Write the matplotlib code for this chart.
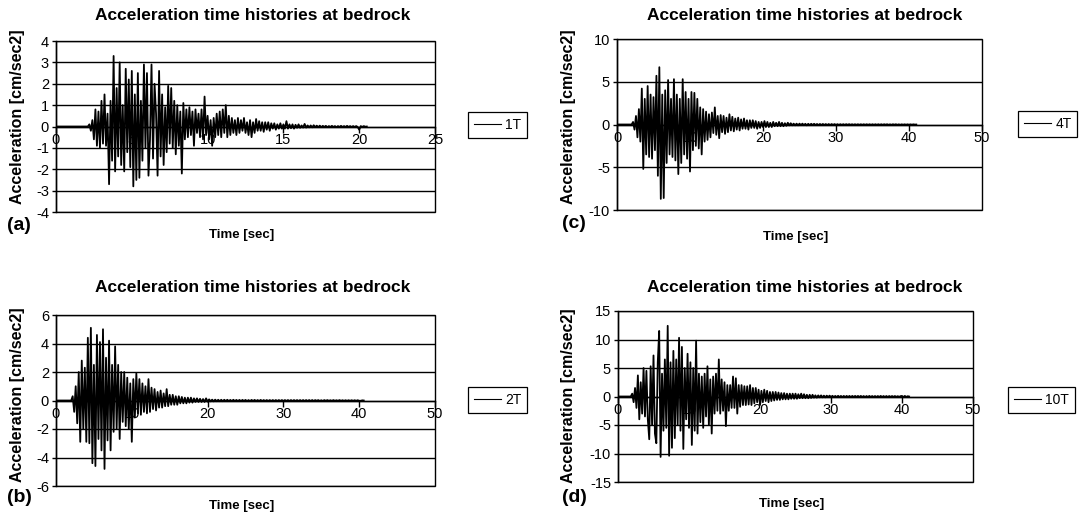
import numpy as np
import matplotlib
matplotlib.use('Agg')
import matplotlib.pyplot as plt
from matplotlib.patches import Rectangle

plt.rcParams['font.family'] = ['Liberation Sans', 'DejaVu Sans']

# record 1T: values every 0.1 s from 2.2 s (flat zero before)
start_1t = 2.2
step_1t = 0.1
acc_1t = [
    0.1, -0.2, 0.3, -0.6, 0.8, -0.9, 0.7, -1.0, 1.2, -0.8,
    1.5, -0.9, 0.6, -2.7, 1.2, -1.6, 3.3, -2.1, 1.8, -1.4,
    3.0, -1.8, 1.0, -2.1, 2.7, -1.2, 2.2, -1.9, 2.6, -2.8,
    1.5, -2.5, 2.5, -2.4, 1.2, -1.6, 2.9, -1.0, 2.5, -2.3,
    -0.6, 2.9, -1.5, 2.0, 0.6, -2.3, 2.6, -1.4, 1.5, -1.8,
    0.9, -1.2, 1.9, -0.8, 1.8, -1.0, 1.2, -1.3, 1.0, -0.9,
    0.7, -2.2, 1.1, -0.6, 0.8, -0.5, 0.9, -0.4, 0.7, -0.9,
    0.8, -0.3, 0.6, -0.5, 0.8, -0.6, 1.4, -0.4, 0.5, -0.6,
    0.3, -0.9, 0.4, -0.5, 0.6, -0.4, 0.7, -0.5, 0.8, -0.3,
    1.0, -0.5, 0.5, -0.4, 0.4, -0.3, 0.3, -0.4, 0.4, -0.3,
    0.3, -0.2, 0.4, -0.3, 0.2, -0.4, 0.3, -0.5, 0.2, -0.3,
    0.35, -0.2, 0.25, -0.2, 0.2, -0.25, 0.2, -0.15, 0.2, -0.2,
    0.15, -0.1, 0.15, -0.15, 0.1, -0.1, 0.15, -0.1, 0.1, -0.1,
    0.25, -0.1, 0.1, -0.08, 0.1, -0.1, 0.08, -0.06, 0.1, -0.06,
    0.05, -0.05, 0.12, -0.05, 0.05, -0.04, 0.05, -0.04, 0.06, -0.03,
    0.04, -0.03, 0.04, -0.03, 0.03, -0.02, 0.03, -0.03, 0.02, -0.02,
    0.03, -0.02, 0.02, -0.03, 0.02, -0.02, 0.03, -0.02, 0.02, -0.02,
    0.03, -0.02, 0.02, -0.02, 0.02, -0.02, 0.02, -0.02, -0.15, 0.02,
    -0.02, 0.02, -0.01, 0.0,
]

# record 2T: values every 0.2 s from 2.2 s
start_2t = 2.2
step_2t = 0.2
acc_2t = [
    0.3, -0.8, 1.0, -1.6, 2.0, -2.9, 2.8, -2.0, 2.3, -2.9,
    4.4, -3.0, 5.1, -4.4, 2.5, -4.6, 4.6, -2.7, 4.1, -3.5,
    5.0, -4.8, 3.0, -2.8, 4.2, -3.5, 2.5, -2.2, 3.8, -2.0,
    2.5, -2.7, 2.0, -1.5, 2.0, -1.8, 1.6, -2.0, 1.2, -2.9,
    1.5, -1.2, 1.9, -0.9, 1.5, -1.0, 1.2, -0.8, 1.0, -0.9,
    1.5, -0.8, 0.9, -0.6, 0.8, -0.7, 0.6, -0.5, 0.7, -0.5,
    0.5, -0.4, 0.8, -0.4, 0.4, -0.3, 0.4, -0.3, 0.3, -0.3,
    0.3, -0.2, 0.25, -0.2, 0.2, -0.2, 0.2, -0.15, 0.2, -0.15,
    0.15, -0.1, 0.15, -0.1, 0.12, -0.1, 0.1, -0.1, 0.15, -0.08,
    0.08, -0.06, 0.06, -0.06, 0.06, -0.05, 0.05, -0.05, 0.05, -0.05,
    0.05, -0.04, 0.05, -0.04, 0.04, -0.04, 0.05, -0.04, 0.04, -0.04,
    0.04, -0.04, 0.04, -0.03, 0.04, -0.04, 0.03, -0.04, 0.04, -0.03,
    0.04, -0.03, 0.03, -0.03, 0.04, -0.03, 0.03, -0.03, 0.03, -0.03,
    0.03, -0.03, 0.03, -0.03, 0.03, -0.03, 0.03, -0.03, 0.03, -0.03,
    0.03, -0.03, 0.03, -0.03, 0.03, -0.03, 0.03, -0.03, 0.03, -0.03,
    0.03, -0.03, 0.03, -0.03, 0.03, -0.03, 0.03, -0.03, 0.03, -0.03,
    0.03, -0.02, 0.03, -0.03, 0.02, -0.03, 0.03, -0.02, 0.03, -0.02,
    0.02, -0.02, 0.03, -0.02, 0.02, -0.02, 0.03, -0.02, 0.02, -0.02,
    0.02, -0.02, 0.02, -0.02, 0.02, -0.02, 0.02, -0.02, 0.02, -0.02,
    -0.02, 0.01, 0.0,
]

# record 4T: values every 0.2 s from 2.2 s
start_4t = 2.2
step_4t = 0.2
acc_4t = [
    0.3, -0.6, 1.0, -1.5, 1.8, -2.0, 4.2, -5.2, 3.0, -3.5,
    4.5, -3.8, 3.5, -4.0, 3.2, -3.0, 5.7, -6.0, 6.7, -8.7,
    3.5, -8.6, 4.0, -4.5, 5.2, -3.5, 3.0, -3.8, 5.3, -4.2,
    3.5, -5.8, 3.0, -4.5, 5.3, -3.5, 3.8, -4.0, 3.0, -5.5,
    3.8, -3.0, 3.7, -2.5, 3.0, -2.8, 2.0, -3.5, 1.8, -2.0,
    1.5, -1.8, 1.2, -1.5, 1.4, -1.0, 2.0, -1.2, 1.0, -1.6,
    1.1, -0.9, 1.0, -1.1, 0.8, -0.9, 1.2, -0.7, 0.9, -0.8,
    0.7, -0.6, 0.8, -0.7, 0.6, -0.5, 0.7, -0.5, 0.5, -0.6,
    0.5, -0.4, 0.5, -0.4, 0.4, -0.5, 0.3, -0.4, 0.3, -0.3,
    0.4, -0.3, 0.3, -0.3, 0.2, -0.3, 0.3, -0.2, 0.2, -0.2,
    0.3, -0.2, 0.2, -0.2, 0.15, -0.15, 0.2, -0.1, 0.15, -0.1,
    0.1, -0.1, 0.1, -0.1, 0.1, -0.08, 0.1, -0.08, 0.08, -0.1,
    0.08, -0.08, 0.08, -0.06, 0.08, -0.06, 0.06, -0.06, 0.06, -0.05,
    0.06, -0.05, 0.05, -0.05, 0.05, -0.05, 0.05, -0.04, 0.05, -0.04,
    0.04, -0.04, 0.04, -0.04, 0.04, -0.04, 0.04, -0.03, 0.04, -0.03,
    0.03, -0.03, 0.03, -0.03, 0.03, -0.03, 0.03, -0.03, 0.03, -0.03,
    0.03, -0.03, 0.03, -0.03, 0.03, -0.03, 0.03, -0.03, 0.03, -0.03,
    0.03, -0.03, 0.03, -0.02, 0.03, -0.03, 0.02, -0.03, 0.03, -0.02,
    0.03, -0.03, 0.02, -0.03, 0.02, -0.02, 0.02, -0.02, 0.02, -0.02,
    0.02, -0.02, 0.02, -0.01, 0.0,
]

# record 10T: values every 0.2 s from 2.0 s
start_10t = 2.0
step_10t = 0.2
acc_10t = [
    0.5, -1.0, 1.5, -2.0, 3.7, -4.0, 2.5, -3.0, 5.0, -3.5,
    4.5, -4.0, -7.5, 5.3, -5.0, 7.2, -6.5, -8.2, 6.0, 11.5,
    -10.6, 4.0, -6.0, 6.5, -5.5, 12.4, -10.4, 6.0, -9.0, 8.0,
    -7.3, 6.5, -5.0, 10.3, -6.0, 8.7, -9.2, 5.0, -4.0, 7.5,
    -5.5, 6.0, -8.5, 5.0, -6.0, 9.8, -6.5, 4.0, -4.5, 3.5,
    -5.5, 4.0, -3.5, 5.3, -5.0, 3.0, -6.5, 3.5, -3.0, 4.0,
    -2.5, 6.5, -3.0, 3.0, -2.5, 2.5, -5.2, 2.0, -2.5, 2.0,
    -2.0, 3.5, -2.0, 3.2, -3.0, 2.0, -1.8, 2.0, -1.5, 1.8,
    -1.5, 1.8, -1.4, 2.0, -1.5, 1.5, -1.2, 1.5, -1.0, 1.2,
    -1.5, 1.0, -1.0, 1.2, -0.8, 1.0, -1.0, 0.8, -0.8, 0.8,
    -0.7, 0.8, -0.6, 0.7, -0.6, 0.6, -0.5, 0.6, -0.5, 0.5,
    -0.5, 0.5, -0.4, 0.5, -0.4, 0.5, -0.4, 0.4, -0.3, 0.5,
    -0.3, 0.4, -0.3, 0.3, -0.3, 0.3, -0.25, 0.3, -0.2, 0.2,
    -0.2, 0.2, -0.15, 0.2, -0.15, 0.15, -0.15, 0.15, -0.1, 0.15,
    -0.1, 0.12, -0.1, 0.1, -0.1, 0.12, -0.1, 0.1, -0.1, 0.1,
    -0.1, 0.1, -0.08, 0.1, -0.1, 0.1, -0.08, 0.1, -0.08, 0.1,
    -0.08, 0.1, -0.08, 0.08, -0.1, 0.08, -0.08, 0.1, -0.08, 0.08,
    -0.08, 0.08, -0.08, 0.08, -0.08, 0.1, -0.08, 0.08, -0.08, 0.08,
    -0.08, 0.08, -0.06, 0.08, -0.06, 0.08, -0.06, 0.06, -0.06, 0.06,
    0.1, -0.1, 0.1, -0.08, 0.05, 0.0,
]

W, H = 1082, 516
fig = plt.figure(figsize=(W / 100, H / 100), dpi=100)


def fx(x):
    return x / W


def fy(y):
    return 1 - y / H


def panel(box, start, step, acc, name, xmax, xstep, ymax, ystep,
          title_xy, xlab_xy, ylab_xy, letter, letter_xy, leg_xy):
    x0, y0, x1, y1 = box
    ax = fig.add_axes([fx(x0), fy(y1), fx(x1 - x0), (y1 - y0) / H])
    # quiet record before the first listed sample
    t = np.concatenate([[0.0, start - step], start + step * np.arange(len(acc))])
    a = np.concatenate([[0.0, 0.0], acc])
    ax.plot(t, a, color='black', lw=1.3, label=name)
    ax.set_xlim(0, xmax)
    ax.set_ylim(-ymax, ymax)
    ax.set_xticks(np.arange(0, xmax + 1, xstep))
    ax.set_yticks(np.arange(-ymax, ymax + 1, ystep))
    ax.yaxis.grid(True, color='black', lw=1)
    ax.set_axisbelow(True)
    ax.spines['bottom'].set_position(('data', 0))
    ax.spines['bottom'].set_linewidth(1)
    ax.spines['left'].set_linewidth(1)
    ax.spines['top'].set_visible(False)
    ax.spines['right'].set_visible(False)
    ax.add_patch(Rectangle((0, 0), 1, 1, transform=ax.transAxes, fill=False,
                           ec='black', lw=1, clip_on=False, zorder=5))
    ax.tick_params(axis='x', direction='out', length=4, width=1, pad=1,
                   labelsize=10.5)
    ax.tick_params(axis='y', direction='out', length=3, width=1, pad=2,
                   labelsize=10.5)
    ax.set_yticklabels([f'{v:g}' for v in ax.get_yticks()])
    fig.text(fx(title_xy[0]), fy(title_xy[1]),
             'Acceleration time histories at bedrock',
             ha='center', va='center', fontsize=12.5, fontweight='bold')
    fig.text(fx(xlab_xy[0]), fy(xlab_xy[1]), 'Time [sec]',
             ha='center', va='center', fontsize=9.5, fontweight='bold')
    fig.text(fx(ylab_xy[0]), fy(ylab_xy[1]), 'Acceleration [cm/sec2]',
             ha='center', va='center', rotation=90, fontsize=11.5,
             fontweight='bold')
    fig.text(fx(letter_xy[0]), fy(letter_xy[1]), letter,
             ha='center', va='center', fontsize=14, fontweight='bold')
    leg = ax.legend(loc='center left', bbox_to_anchor=(fx(leg_xy[0]), fy(leg_xy[1])),
                    bbox_transform=fig.transFigure, fancybox=False,
                    edgecolor='black', framealpha=1, fontsize=10,
                    handlelength=2.0, handletextpad=0.3, borderpad=0.4,
                    borderaxespad=0)
    leg.get_frame().set_linewidth(0.9)
    for line in leg.get_lines():
        line.set_linewidth(0.8)
    return ax


panel((56, 41, 435, 212), start_1t, step_1t, acc_1t, '1T', 25, 5, 4, 1,
      (253, 16), (242, 235), (18, 117), '(a)', (19, 225), (468, 125))
panel((617, 39, 982, 210), start_4t, step_4t, acc_4t, '4T', 50, 10, 10, 5,
      (805, 16), (796, 237), (569, 117), '(c)', (574, 223), (1018, 124))
panel((56, 315, 435, 486), start_2t, step_2t, acc_2t, '2T', 50, 10, 6, 2,
      (253, 288), (242, 506), (18, 395), '(b)', (19, 498), (468, 400))
panel((618, 311, 973, 482), start_10t, step_10t, acc_10t, '10T', 50, 10, 15, 5,
      (805, 288), (792, 504), (569, 396), '(d)', (574, 498), (1008, 400))

fig.savefig('out.png', dpi=100)
